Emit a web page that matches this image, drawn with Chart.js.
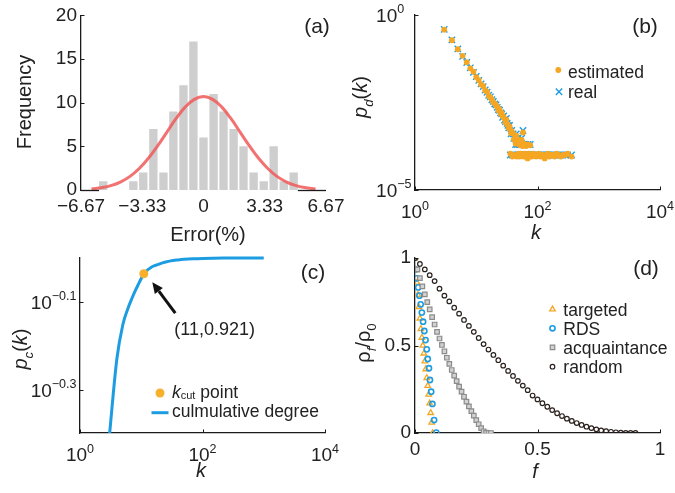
<!DOCTYPE html>
<html><head><meta charset="utf-8">
<script src="https://cdn.jsdelivr.net/npm/chart.js@4.4.1/dist/chart.umd.min.js"></script>
<style>
html,body{margin:0;padding:0;background:#fff;width:675px;height:493px;overflow:hidden}
canvas{position:absolute;left:0;top:0}
</style></head><body>
<canvas id="ca" width="675" height="493"></canvas>
<canvas id="cb" width="675" height="493"></canvas>
<canvas id="cc" width="675" height="493"></canvas>
<canvas id="cd" width="675" height="493"></canvas>
<script>
// ---------------- DATA ----------------
// (a) error histogram
const errBinCenters = [-5.46,-3.82,-3.28,-2.73,-2.18,-1.64,-1.09,-0.55,0,0.55,1.09,1.64,2.18,2.73,3.28,3.82,4.37,4.91];
const errCounts     = [1,1,2,7,2,9,12,17,6,11,9,7,5,2,1,5,1,2];
const fitX = [-6.1,-5.5,-5,-4.5,-4,-3.5,-3,-2.5,-2,-1.5,-1,-0.5,0,0.5,1,1.5,2,2.5,3,3.5,4,4.5,5,5.5,6.1];
const fitY = [0.12,0.28,0.53,0.94,1.56,2.46,3.63,5.05,6.61,8.17,9.49,10.38,10.7,10.38,9.49,8.17,6.61,5.05,3.63,2.46,1.56,0.94,0.53,0.28,0.12];
const errTicks = [-6.67,-3.33,0,3.33,6.67];
const errTickLabels = ['\u22126.67','\u22123.33','0','3.33','6.67'];
const freqTicks = [0,5,10,15,20];

// (b) degree distribution
const degK = [3,4,5,6,7,8,9,10,11,12,13,14,15,16,17,18,19,20,21,22,23,24,25,26,27,28,29,30,31,32,33,34,
  35,36,37,38,39,40,41,42,43,44,45,46,47,48,49,50,51,52,53,55,56,57,58,59,60,
  62,64,65,67,69,70,72,74,76,78,81,85,90,95,99,
  105,112,118,124,131,140,148,156,167,178,190,205,222,240,260,285,310,360];
const pReal = [0.39,0.195,0.108,0.066,0.044,0.031,0.023,0.0175,0.0135,0.0108,0.0090,0.0072,0.0062,0.0051,0.0046,0.0038,0.0034,0.0029,0.0027,0.0023,0.0020,0.0019,0.0016,0.0015,0.0012,0.0013,0.0010,0.0009,0.0011,0.0008,0.0007,0.0006,
  0.0007,0.0001,0.0004,0.0005,0.0001,0.0004,0.0003,0.0001,0.0003,0.0002,0.0004,0.0001,0.0002,0.0003,0.0001,0.0002,0.0001,0.0002,0.0001,0.0003,0.0001,0.0002,0.0005,0.0001,0.0002,
  0.0001,0.0001,0.0002,0.0001,0.0001,0.0002,0.0001,0.0001,0.0002,0.0001,0.0001,0.0001,0.0001,0.0001,0.0001,
  0.0001,0.0001,0.0001,0.0001,0.0001,0.0001,0.0001,0.0001,0.0001,0.0001,0.0001,0.0001,0.0001,0.0001,0.0001,0.0001,0.0001,0.0001];
const pEst = [0.38,0.19,0.105,0.068,0.045,0.030,0.024,0.0168,0.0138,0.0104,0.0093,0.0070,0.0064,0.0049,0.0044,0.0039,0.0032,0.0030,0.0026,0.0024,0.0019,0.0020,0.0015,0.0016,0.0013,0.0012,0.0011,0.00085,0.0010,0.00075,0.00072,0.00058,
  0.00065,0.00011,0.00042,0.00048,0.00009,0.00041,0.00028,0.00010,0.00031,0.00021,0.00036,0.00009,0.00023,0.00028,0.00011,0.00021,0.00009,0.00019,0.00011,0.00027,0.00010,0.00018,0.00044,0.00009,0.00021,
  0.00011,0.00009,0.00018,0.00010,0.00008,0.00020,0.00011,0.00009,0.00019,0.00010,0.00009,0.00011,0.00010,0.00009,0.00010,
  0.00011,0.00009,0.00010,0.00010,0.00008,0.00010,0.00011,0.00009,0.00010,0.00010,0.00009,0.00011,0.00010,0.00009,0.00010,0.00010,0.00011,0.00009];
const kTicks = [1,100,10000];
const kTickExp = ['0','2','4'];
const pdTicks = [1,0.00001];
const pdTickExp = ['0','\u22125'];

// (c) cumulative degree
const kCum = [3,4,5,6,7,8,9,10,11,12,13,14,15,17,20,25,30,40,50,70,100,150,250,400,1000];
const pCum = [0.39,0.59,0.705,0.765,0.808,0.843,0.872,0.898,0.921,0.933,0.942,0.949,0.955,0.962,0.970,0.979,0.985,0.990,0.993,0.996,0.998,0.999,0.9995,0.9998,1.0];
const kCut = [11];
const pCut = [0.921];
const pcTicks = [0.7943,0.5012];
const pcTickExp = ['\u22120.1','\u22120.3'];

// (d) immunization strategies
const fTargeted = [0,0.004,0.008,0.012,0.016,0.020,0.024,0.028,0.032,0.036,0.040,0.044,0.048,0.052,0.056,0.060,0.064,0.068,0.072];
const rTargeted = [1.0,0.93,0.86,0.79,0.72,0.655,0.595,0.545,0.50,0.455,0.41,0.365,0.315,0.27,0.22,0.17,0.115,0.06,0.0];
const fRDS = [0.001,0.007,0.013,0.018,0.023,0.028,0.033,0.038,0.043,0.048,0.052,0.057,0.061,0.066,0.071,0.078,0.087];
const rRDS = [0.935,0.884,0.832,0.785,0.735,0.688,0.636,0.583,0.531,0.478,0.423,0.370,0.303,0.236,0.166,0.074,0.002];
const fAcq = [0,0.01,0.02,0.03,0.04,0.05,0.06,0.07,0.08,0.09,0.10,0.11,0.12,0.13,0.14,0.15,0.16,0.17,0.18,0.19,0.20,0.21,0.22,0.23,0.24,0.25,0.26,0.27,0.28,0.29,0.30,0.31];
const rAcq = [1.0,0.935,0.885,0.838,0.792,0.748,0.706,0.662,0.620,0.578,0.540,0.503,0.467,0.430,0.395,0.360,0.328,0.296,0.265,0.236,0.207,0.179,0.152,0.125,0.099,0.074,0.050,0.028,0.010,0.002,0.0,0.0];
const fRandom = [0,0.02,0.04,0.06,0.08,0.10,0.12,0.14,0.16,0.18,0.20,0.22,0.24,0.26,0.28,0.30,0.32,0.34,0.36,0.38,0.40,0.42,0.44,0.46,0.48,0.50,0.52,0.54,0.56,0.58,0.60,0.62,0.64,0.66,0.68,0.70,0.72,0.74,0.76,0.78,0.80,0.82,0.84,0.86,0.88,0.90];
const rRandom = [1.0,0.966,0.935,0.902,0.868,0.825,0.785,0.752,0.716,0.682,0.646,0.612,0.578,0.543,0.508,0.477,0.446,0.416,0.385,0.355,0.326,0.298,0.271,0.245,0.214,0.192,0.170,0.150,0.131,0.113,0.097,0.082,0.069,0.057,0.046,0.036,0.028,0.021,0.015,0.010,0.007,0.004,0.002,0.001,0.0,0.0];
const unitTicks = [0,0.5,1];
const unitTickLabels = ['0','0.5','1'];

// ---------------- STYLE / HELPERS ----------------
const F = "'Liberation Sans', Arial, Helvetica, sans-serif";
const AX = '#1a1a1a', TXT = '#222';
const TICK = 19, TITLE = 20, LEG = 17.5;
const C_ORANGE = '#f5a623', C_BLUE = '#1c9de2', C_GRAY = '#8c8c8c', C_BLACK = '#2a211d';
Chart.defaults.font.family = F;
Chart.defaults.color = TXT;

function fnt(it, sz) { return (it ? 'italic ' : '') + sz + 'px ' + F; }
function partsOf(ctx, segs, size) {
  return segs.map(s => {
    const sz = s.size || ((s.sub || s.sup) ? size * 0.66 : size);
    ctx.font = fnt(s.it, sz);
    return { s, sz, w: ctx.measureText(s.t).width };
  });
}
function richWidth(ctx, segs, size) { return partsOf(ctx, segs, size).reduce((a, p) => a + p.w, 0); }
function drawRich(ctx, t) {
  const size = t.size;
  const parts = partsOf(ctx, t.segs, size);
  const total = parts.reduce((a, p) => a + p.w, 0);
  ctx.save();
  ctx.translate(t.x, t.y);
  if (t.rot) ctx.rotate(t.rot);
  let x0 = t.align === 'left' ? 0 : t.align === 'right' ? -total : -total / 2;
  const base = 0.36 * size;
  ctx.fillStyle = TXT; ctx.textAlign = 'left'; ctx.textBaseline = 'alphabetic';
  parts.forEach(p => {
    ctx.font = fnt(p.s.it, p.sz);
    const dy = p.s.dy != null ? p.s.dy : p.s.sub ? 0.28 * size : p.s.sup ? -0.44 * size : 0;
    ctx.fillText(p.s.t, x0, base + dy);
    x0 += p.w;
  });
  ctx.restore();
}
function pow10(e) { return [{ t: '10' }, { t: e, sup: true }]; }
function marker(ctx, style, x, y, r, fill, stroke, bw) {
  ctx.save();
  ctx.fillStyle = fill; ctx.strokeStyle = stroke; ctx.lineWidth = bw;
  Chart.helpers.drawPoint(ctx, { pointStyle: style, radius: r, borderWidth: bw, rotation: 0 }, x, y);
  ctx.restore();
}

function makeDeco(cfg) {
  return {
    id: 'deco',
    afterDraw(chart) {
      const ctx = chart.ctx, xs = chart.scales.x, ys = chart.scales.y, ca = chart.chartArea;
      ctx.save();
      ctx.strokeStyle = AX; ctx.lineWidth = 1;
      (cfg.xIn || []).forEach(v => {
        const px = Math.round(xs.getPixelForValue(v)) + 0.5;
        ctx.beginPath(); ctx.moveTo(px, ca.bottom); ctx.lineTo(px, ca.bottom - 3.5); ctx.stroke();
      });
      (cfg.yIn || []).forEach(v => {
        const py = Math.round(ys.getPixelForValue(v)) + 0.5;
        ctx.beginPath(); ctx.moveTo(ca.left, py); ctx.lineTo(ca.left + 3.5, py); ctx.stroke();
      });
      if (cfg.xLog) cfg.xLog.v.forEach((v, i) => {
        drawRich(ctx, { segs: pow10(cfg.xLog.e[i]), x: xs.getPixelForValue(v), y: ca.bottom + 21.5, size: TICK });
      });
      if (cfg.yLog) {
        const mw = Math.max(...cfg.yLog.e.map(e => richWidth(ctx, pow10(e), TICK)));
        cfg.yLog.v.forEach((v, i) => {
          drawRich(ctx, { segs: pow10(cfg.yLog.e[i]), x: ca.left - 3.5 - mw, y: ys.getPixelForValue(v), size: TICK, align: 'left' });
        });
      }
      (cfg.texts || []).forEach(t => drawRich(ctx, t));
      if (cfg.extra) cfg.extra(chart, ctx, xs, ys, ca);
      ctx.restore();
    }
  };
}

function baseOpts(area, xScale, yScale) {
  return {
    responsive: false, animation: false, devicePixelRatio: 1,
    layout: { padding: { left: 0, top: area.top, right: 675 - area.right, bottom: 493 - area.bottom - 40 } },
    plugins: { legend: { display: false }, tooltip: { enabled: false } },
    scales: {
      x: Object.assign({ grid: { display: false, drawTicks: false }, border: { display: true, color: AX, width: 1.3 },
        afterFit: s => { s.height = 40; } }, xScale),
      y: Object.assign({ grid: { display: false, drawTicks: false }, border: { display: true, color: AX, width: 1.3 },
        afterFit: s => { s.width = area.left; } }, yScale)
    }
  };
}
const tickFont = { size: TICK };
const ROT = -Math.PI / 2;

// ---------------- (a) ----------------
new Chart(document.getElementById('ca'), {
  type: 'bar',
  data: { datasets: [
    { type: 'line', data: fitX.map((x, i) => ({ x, y: fitY[i] })), borderColor: 'rgba(240,88,88,0.85)', borderWidth: 3,
      pointRadius: 0, tension: 0.4, order: 0 },
    { type: 'bar', data: errBinCenters.map((x, i) => ({ x, y: errCounts[i] })), backgroundColor: '#cecece',
      barPercentage: 0.84, categoryPercentage: 1, order: 1 }
  ] },
  options: baseOpts({ left: 81, right: 326, top: 15, bottom: 190 },
    { type: 'linear', min: -6.67, max: 6.67, offset: false, border: { display: false },
      afterBuildTicks: s => { s.ticks = errTicks.map(v => ({ value: v })); },
      ticks: { font: tickFont, color: TXT, padding: 5.5, maxRotation: 0, autoSkip: false,
        callback: v => errTickLabels[errTicks.indexOf(v)] } },
    { type: 'linear', min: 0, max: 20,
      afterBuildTicks: s => { s.ticks = freqTicks.map(v => ({ value: v })); },
      ticks: { font: tickFont, color: TXT, padding: 4 } }),
  plugins: [makeDeco({
    yIn: freqTicks,
    texts: [
      { segs: [{ t: 'Frequency' }], x: 24, y: 102, size: TITLE, rot: ROT },
      { segs: [{ t: 'Error(%)' }], x: 208, y: 234, size: TITLE },
      { segs: [{ t: '(a)' }], x: 317, y: 25, size: 21 }
    ],
    extra: (chart, ctx, xs, ys, ca) => {
      const bars = chart.getDatasetMeta(1).data;
      const first = bars[0], last = bars[bars.length - 1];
      ctx.strokeStyle = AX; ctx.lineWidth = 1.3;
      const y = Math.round(ca.bottom) + 0.5;
      ctx.beginPath(); ctx.moveTo(ca.left, y); ctx.lineTo(first.x - first.width / 2, y); ctx.stroke();
      ctx.beginPath(); ctx.moveTo(last.x + last.width / 2, y); ctx.lineTo(ca.right, y); ctx.stroke();
    }
  })]
});

// ---------------- (b) ----------------
new Chart(document.getElementById('cb'), {
  type: 'scatter',
  data: { datasets: [
    { label: 'estimated', data: degK.map((k, i) => ({ x: k, y: pEst[i] })), pointStyle: 'circle', pointRadius: 2.9,
      backgroundColor: C_ORANGE, borderWidth: 0, order: 0 },
    { label: 'real', data: degK.map((k, i) => ({ x: k, y: pReal[i] })), pointStyle: 'crossRot', pointRadius: 4.5,
      borderColor: C_BLUE, borderWidth: 1.4, order: 1 }
  ] },
  options: baseOpts({ left: 415, right: 660, top: 15, bottom: 190 },
    { type: 'logarithmic', min: 1, max: 10000, ticks: { display: false } },
    { type: 'logarithmic', min: 0.00001, max: 1, ticks: { display: false } }),
  plugins: [makeDeco({
    xIn: kTicks, yIn: pdTicks,
    xLog: { v: kTicks, e: kTickExp }, yLog: { v: pdTicks, e: pdTickExp },
    texts: [
      { segs: [{ t: 'p', it: 1 }, { t: 'd', it: 1, sub: 1 }, { t: '(' }, { t: 'k', it: 1 }, { t: ')' }], x: 360, y: 97, size: TITLE, rot: ROT },
      { segs: [{ t: 'k', it: 1 }], x: 536, y: 232, size: TITLE },
      { segs: [{ t: '(b)' }], x: 645, y: 25, size: 21 },
      { segs: [{ t: 'estimated' }], x: 568, y: 71.2, size: LEG, align: 'left' },
      { segs: [{ t: 'real' }], x: 568, y: 91.7, size: LEG, align: 'left' }
    ],
    extra: (chart, ctx) => {
      marker(ctx, 'circle', 558.3, 70, 2.9, C_ORANGE, C_ORANGE, 0);
      marker(ctx, 'crossRot', 559, 91.7, 4.5, C_BLUE, C_BLUE, 1.4);
    }
  })]
});

// ---------------- (c) ----------------
new Chart(document.getElementById('cc'), {
  type: 'scatter',
  data: { datasets: [
    { label: 'kcut point', data: kCut.map((k, i) => ({ x: k, y: pCut[i] })), pointStyle: 'circle', pointRadius: 4.5,
      backgroundColor: '#f7b02c', borderWidth: 0, order: 0 },
    { label: 'culmulative degree', data: kCum.map((k, i) => ({ x: k, y: pCum[i] })), showLine: true, pointRadius: 0,
      cubicInterpolationMode: 'monotone',
      borderColor: C_BLUE, borderWidth: 3, order: 1, clip: { left: 5, top: 5, right: 5, bottom: 0 } }
  ] },
  options: baseOpts({ left: 80, right: 325, top: 258, bottom: 433 },
    { type: 'logarithmic', min: 1, max: 10000, ticks: { display: false } },
    { type: 'logarithmic', min: 0.4, max: 1, ticks: { display: false } }),
  plugins: [makeDeco({
    xIn: kTicks, yIn: pcTicks,
    xLog: { v: kTicks, e: kTickExp }, yLog: { v: pcTicks, e: pcTickExp },
    texts: [
      { segs: [{ t: 'p', it: 1 }, { t: 'c', it: 1, sub: 1 }, { t: '(' }, { t: 'k', it: 1 }, { t: ')' }], x: 20, y: 349, size: TITLE, rot: ROT },
      { segs: [{ t: 'k', it: 1 }], x: 201, y: 470, size: TITLE },
      { segs: [{ t: '(c)' }], x: 313, y: 271, size: 21 },
      { segs: [{ t: 'k', it: 1 }, { t: 'cut', size: 11, dy: 1 }, { t: ' point' }], x: 172, y: 392, size: LEG, align: 'left' },
      { segs: [{ t: 'culmulative degree' }], x: 172, y: 410.7, size: LEG, align: 'left' }
    ],
    extra: (chart, ctx, xs, ys) => {
      const px = xs.getPixelForValue(kCut[0]), py = ys.getPixelForValue(pCut[0]);
      const tx = px + 31.5, ty = py + 39.5, hx = px + 8.5, hy = py + 8.5;
      const ang = Math.atan2(hy - ty, hx - tx), L = 11, W = 5;
      const bx = hx - L * Math.cos(ang), by = hy - L * Math.sin(ang);
      ctx.strokeStyle = '#111'; ctx.fillStyle = '#111'; ctx.lineWidth = 3;
      ctx.beginPath(); ctx.moveTo(tx, ty); ctx.lineTo(bx, by); ctx.stroke();
      ctx.beginPath(); ctx.moveTo(hx, hy);
      ctx.lineTo(bx + W * Math.sin(ang), by - W * Math.cos(ang));
      ctx.lineTo(bx - W * Math.sin(ang), by + W * Math.cos(ang));
      ctx.closePath(); ctx.fill();
      drawRich(ctx, { segs: [{ t: '(' + kCut[0] + ',' + pCut[0] + ')' }], x: px + 30.5, y: py + 54.5, size: 18, align: 'left' });
      marker(ctx, 'circle', 160, 393, 4.5, '#f7b02c', '#f7b02c', 0);
      ctx.strokeStyle = C_BLUE; ctx.lineWidth = 3;
      ctx.beginPath(); ctx.moveTo(151.5, 412.7); ctx.lineTo(168.5, 412.7); ctx.stroke();
    }
  })]
});

// ---------------- (d) ----------------
const dStyles = {
  targeted: { pointStyle: 'triangle', pointRadius: 3.2, borderColor: C_ORANGE, backgroundColor: 'rgba(0,0,0,0)', borderWidth: 1.3 },
  rds: { pointStyle: 'circle', pointRadius: 2.6, borderColor: C_BLUE, backgroundColor: 'rgba(0,0,0,0)', borderWidth: 1.6 },
  acq: { pointStyle: 'rect', pointRadius: 3.2, borderColor: C_GRAY, backgroundColor: '#d2d2d2', borderWidth: 1.2 },
  random: { pointStyle: 'circle', pointRadius: 2.3, borderColor: C_BLACK, backgroundColor: 'rgba(0,0,0,0)', borderWidth: 1.2 }
};
new Chart(document.getElementById('cd'), {
  type: 'scatter',
  data: { datasets: [
    Object.assign({ label: 'random', data: fRandom.map((f, i) => ({ x: f, y: rRandom[i] })), order: 0 }, dStyles.random),
    Object.assign({ label: 'acquaintance', data: fAcq.map((f, i) => ({ x: f, y: rAcq[i] })), order: 1 }, dStyles.acq),
    Object.assign({ label: 'RDS', data: fRDS.map((f, i) => ({ x: f, y: rRDS[i] })), order: 2 }, dStyles.rds),
    Object.assign({ label: 'targeted', data: fTargeted.map((f, i) => ({ x: f, y: rTargeted[i] })), order: 3 }, dStyles.targeted)
  ] },
  options: baseOpts({ left: 415, right: 660, top: 258, bottom: 433 },
    { type: 'linear', min: 0, max: 1,
      afterBuildTicks: s => { s.ticks = unitTicks.map(v => ({ value: v })); },
      ticks: { font: tickFont, color: TXT, padding: 5.5, maxRotation: 0, autoSkip: false,
        callback: v => unitTickLabels[unitTicks.indexOf(v)] } },
    { type: 'linear', min: 0, max: 1,
      afterBuildTicks: s => { s.ticks = unitTicks.map(v => ({ value: v })); },
      ticks: { font: tickFont, color: TXT, padding: 4,
        callback: v => unitTickLabels[unitTicks.indexOf(v)] } }),
  plugins: [makeDeco({
    xIn: unitTicks, yIn: unitTicks,
    texts: [
      { segs: [{ t: '\u03C1' }, { t: 'f', it: 1, sub: 1 }, { t: '/' }, { t: '\u03C1' }, { t: '0', sub: 1 }], x: 363, y: 343, size: TITLE, rot: ROT },
      { segs: [{ t: 'f', it: 1 }], x: 535, y: 471, size: TITLE },
      { segs: [{ t: '(d)' }], x: 646, y: 267, size: 21 },
      { segs: [{ t: 'targeted' }], x: 563.3, y: 309.3, size: LEG, align: 'left' },
      { segs: [{ t: 'RDS' }], x: 563.3, y: 328.3, size: LEG, align: 'left' },
      { segs: [{ t: 'acquaintance' }], x: 563.3, y: 347.3, size: LEG, align: 'left' },
      { segs: [{ t: 'random' }], x: 563.3, y: 366.7, size: LEG, align: 'left' }
    ],
    extra: (chart, ctx) => {
      const rows = [[dStyles.targeted, 309.3], [dStyles.rds, 328.3], [dStyles.acq, 347.3], [dStyles.random, 366.7]];
      rows.forEach(([st, y]) => marker(ctx, st.pointStyle, 552.5, y, st.pointRadius, st.backgroundColor, st.borderColor, st.borderWidth));
    }
  })]
});
</script>
</body></html>
